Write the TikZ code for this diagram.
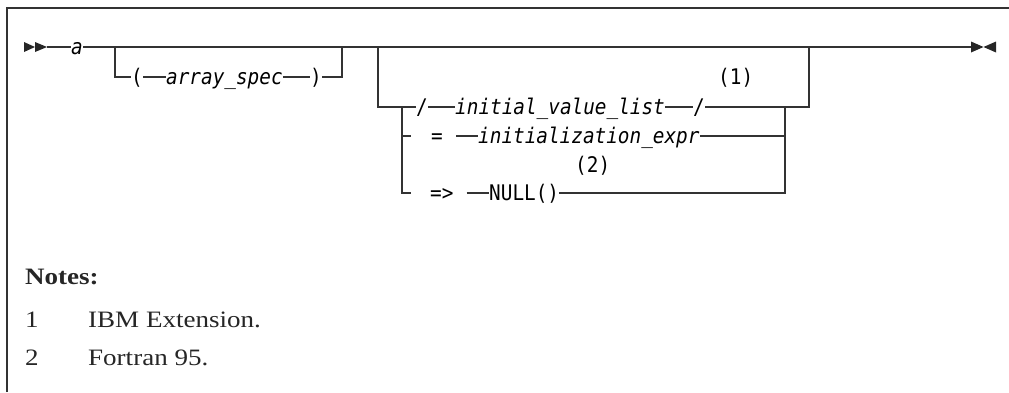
\documentclass[tikz,border=0pt]{standalone}
\usepackage{fontspec}
\newfontfamily\railfont[FakeStretch=0.9]{DejaVu Sans Mono}
\newfontfamily\notefont[FakeStretch=1.15]{Liberation Serif}
\usetikzlibrary{positioning, calc}

\begin{document}
\begin{tikzpicture}[
    x=1pt, y=-1pt,
    rail/.style={line width=1.3pt, black!80},
    tok/.style={inner sep=0pt, anchor=west, text height=14pt, text depth=0pt, font=\railfont\fontsize{21.5}{24}\selectfont\itshape},
    kw/.style={tok, font=\railfont\fontsize{21.5}{24}\selectfont},
    note/.style={inner sep=0pt, anchor=base west, text=black!85, font=\notefont\fontsize{23.5}{28}\selectfont},
    tip/.style={fill=black!85}
]
    \useasboundingbox (0,0) rectangle (1009,392);
    \draw[line width=1.5pt, black!80] (7,392) -- (7,8) -- (1009,8);

    % start and end marks
    \fill[tip] (24,42) -- (35,47) -- (24,52) -- cycle;
    \fill[tip] (35,42) -- (47,47) -- (35,52) -- cycle;
    \fill[tip] (971,41.5) -- (983.5,47) -- (971,52.5) -- cycle;
    \fill[tip] (996,41.5) -- (983.5,47) -- (996,52.5) -- cycle;
    \coordinate (start) at (47,47);
    \coordinate (final) at (971,47);

    % tokens
    \node[tok] (a) at (71,47) {a};
    \node[kw] (lpar) at (131,77) {(};
    \node[tok] (aspec) at (166,77) {array\_spec};
    \node[kw] (rpar) at (310,77) {)};
    \node[kw] (sl1) at (416,107) {/};
    \node[tok] (ivl) at (455,107) {initial\_value\_list};
    \node[kw] (sl2) at (693,107) {/};
    \node[kw] (fn1) at (718,77) {(1)};
    \node[kw] (eq) at (431,136) {=};
    \node[tok] (iex) at (478,136) {initialization\_expr};
    \node[kw] (fn2) at (575,165) {(2)};
    \node[kw] (ptr) at (430,193) {=>};
    \node[kw] (null) at (489,193) {NULL()};

    % main rail
    \draw[rail] (start) -- (a.west);
    \draw[rail] (a.east) -- (final);

    % optional array spec
    \coordinate (b1l) at (115,47);
    \coordinate (b1r) at (342,47);
    \draw[rail] (b1l) |- (lpar.west);
    \draw[rail] (lpar.east) -- (aspec.west);
    \draw[rail] (aspec.east) -- (rpar.west);
    \draw[rail] (rpar.east) -| (b1r);

    % optional initialization
    \coordinate (b2l) at (378,47);
    \coordinate (b2i) at (402,107);
    \coordinate (b2j) at (785,107);
    \coordinate (b2r) at (809,47);
    \draw[rail] (b2l) |- (sl1.west);
    \draw[rail] (sl1.east) -- (ivl.west);
    \draw[rail] (ivl.east) -- (sl2.west);
    \draw[rail] (sl2.east) -| (b2r);
    \draw[rail, shorten >=20pt] (b2i) |- (eq.west);
    \draw[rail, shorten <=13pt] (eq.east) -- (iex.west);
    \draw[rail] (iex.east) -- (iex.east -| b2j);
    \draw[rail, shorten >=19pt] (b2i) |- (ptr.west);
    \draw[rail, shorten <=13pt] (ptr.east) -- (null.west);
    \draw[rail] (null.east) -| (b2j);

    % notes
    \node[note, font=\notefont\fontsize{23.5}{28}\selectfont\bfseries] (notes) at (25,284) {Notes:};
    \node[note] (num1) at (25,327) {1};
    \node[note] (txt1) at (88,327) {IBM Extension.};
    \node[note] (num2) at (25,365) {2};
    \node[note] (txt2) at (88,365) {Fortran 95.};
\end{tikzpicture}
\end{document}
